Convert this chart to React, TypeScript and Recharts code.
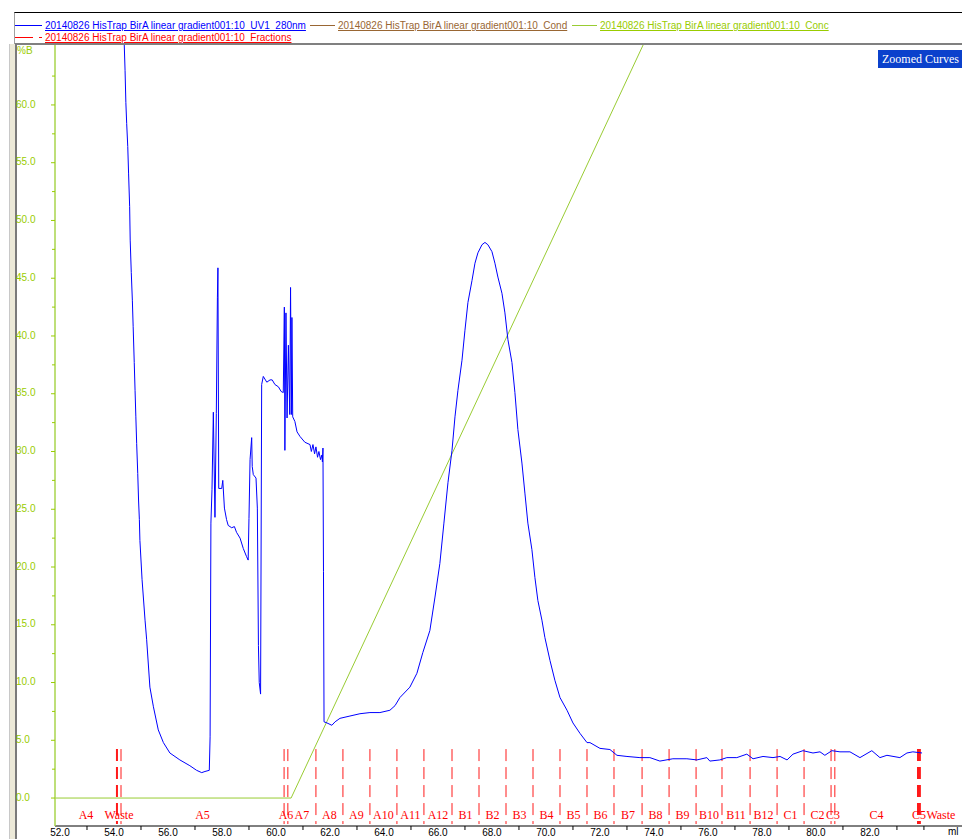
import React from 'react';
import { LineChart, Line, XAxis, YAxis, ReferenceLine, ReferenceDot } from 'recharts';

// UV1_280nm trace (ml, display units of the %B scale)
const uvMl = [
  54.35, 54.38, 54.41, 54.44, 54.47, 54.51, 54.54, 54.58, 54.6, 54.64, 54.68, 54.71, 54.75, 54.78, 54.81, 54.84,
  54.88, 54.91, 54.94, 54.96, 55.04, 55.15, 55.21, 55.33, 55.46, 55.64, 55.83, 56.07, 56.44, 56.81, 57.06, 57.25,
  57.37, 57.53,
  57.56, 57.59, 57.63, 57.68, 57.74, 57.79, 57.83, 57.85, 57.88, 57.99, 58.03, 58.09, 58.17, 58.23, 58.36, 58.46,
  58.54, 58.67, 58.79, 58.91, 58.97,
  59.0, 59.04, 59.1, 59.12, 59.16, 59.26, 59.31, 59.35, 59.38, 59.43,
  59.47, 59.53, 59.66, 59.78, 59.86, 59.96, 60.09, 60.19, 60.27,
  60.31, 60.33, 60.37, 60.41, 60.46, 60.51, 60.54, 60.57, 60.59,
  60.62, 60.7, 60.78, 60.89, 61.07, 61.26, 61.31, 61.37, 61.43, 61.48, 61.54, 61.59, 61.65, 61.7, 61.72, 61.74,
  61.76, 61.78,
  61.89, 62.07, 62.19,
  62.37, 62.74, 63.11, 63.48, 63.85, 64.22, 64.41, 64.59,
  64.96, 65.22, 65.44, 65.7, 65.89, 66.07, 66.22, 66.37, 66.52, 66.63, 66.74, 66.89, 67.0, 67.11, 67.26, 67.37,
  67.48, 67.63, 67.74, 67.85, 68.0, 68.11, 68.22, 68.37, 68.48, 68.59, 68.74, 68.85, 68.96, 69.11, 69.22, 69.33,
  69.48, 69.59, 69.7, 69.85, 69.96, 70.15, 70.33, 70.52, 70.78, 71.0, 71.26, 71.52, 71.63, 72.0, 72.37, 72.63,
  73.0, 73.48, 73.85, 74.22, 74.7, 75.22, 75.59, 75.96, 76.07, 76.44, 76.7, 77.07, 77.44, 77.67, 78.04, 78.41,
  78.67, 78.93, 79.15, 79.52, 79.89, 80.15, 80.33, 80.59, 80.89, 81.26, 81.63, 82.07, 82.37, 82.63, 83.11, 83.37,
  83.59, 83.93,
];
const uvAbs = [
  71.7, 65.2, 63.0, 60.2, 58.4, 56.4, 54.1, 51.2, 48.3, 45.5, 43.1, 40.8, 37.7, 35.3, 33.0, 30.7,
  28.1, 25.8, 24.1, 22.3, 18.9, 15.4, 13.7, 9.6, 7.9, 5.9, 4.8, 3.9, 3.3, 2.8, 2.4, 2.2,
  2.3, 2.4,
  5.3, 23.8, 26.7, 33.4, 24.3, 33.3, 43.3, 45.9, 26.8, 26.8, 27.5, 25.1, 24.1, 23.6, 23.4, 23.5,
  23.0, 22.5, 21.6, 20.9, 20.6,
  24.2, 29.3, 31.2, 28.7, 28.0, 27.7, 25.1, 13.2, 10.0, 9.0,
  35.8, 36.5, 36.0, 36.2, 36.2, 35.8, 35.6, 35.2, 35.1,
  42.5, 30.1, 42.0, 32.9, 39.2, 33.2, 44.2, 33.2, 41.6,
  33.0, 32.6, 31.7, 31.3, 30.8, 30.6, 30.0, 30.6, 29.8, 30.4, 29.5, 30.0, 29.3, 29.7, 29.1, 30.3,
  19.6, 6.6,
  6.5, 6.3, 6.6,
  6.9, 7.1, 7.3, 7.4, 7.4, 7.6, 8.0, 8.7,
  9.6, 10.8, 12.6, 14.5, 17.4, 20.3, 23.8, 27.3, 30.1, 33.0, 35.3, 37.9, 40.5, 42.9, 44.8, 46.3,
  47.2, 47.9, 48.1, 47.9, 47.3, 46.3, 45.1, 43.7, 42.0, 39.7, 37.7, 35.1, 31.9, 29.0, 26.4, 23.8,
  21.5, 19.1, 17.1, 15.4, 13.9, 11.9, 10.2, 8.7, 7.6, 6.5, 5.6, 4.8, 4.8, 4.3, 4.2, 3.7,
  3.6, 3.5, 3.5, 3.2, 3.4, 3.4, 3.3, 3.5, 3.2, 3.3, 3.5, 3.5, 3.8, 3.4, 3.6, 3.5,
  3.6, 3.3, 3.8, 4.1, 3.9, 4.0, 3.7, 4.1, 4.0, 4.0, 3.5, 4.1, 3.5, 3.7, 3.5, 3.9,
  4.0, 3.9,
];

// %B gradient (Conc)
const concMl = [51.8, 60.56, 80.56];
const concB = [0, 0, 100];

// fraction marks and names
const fractionMl = [
  54.11, 54.26, 60.3, 60.44, 61.48, 62.48, 63.48, 64.48, 65.48, 66.52, 67.52, 68.52, 69.52, 70.52, 71.52,
  72.52, 73.56, 74.56, 75.56, 76.52, 77.56, 78.56, 79.56, 80.56, 80.7, 83.78, 83.85,
];
const fractionNames = [
  'A4', 'Waste', 'A5', 'A6', 'A7', 'A8', 'A9', 'A10', 'A11', 'A12', 'B1', 'B2', 'B3', 'B4', 'B5', 'B6',
  'B7', 'B8', 'B9', 'B10', 'B11', 'B12', 'C1', 'C2', 'C3', 'C4', 'C5', 'Waste',
];

const xTicks = Array.from({ length: 33 }, (_, i) => 52 + i);
const yTicks = Array.from({ length: 26 }, (_, i) => i * 2.5);

const X_MIN = 51.815;
const X_MAX = 85.41;

const uvData = uvMl.map((ml, i) => ({ ml, v: uvAbs[i] }));
const concData = concMl.map((ml, i) => ({ ml, v: concB[i] }));
const bounds = [X_MIN, ...fractionMl, X_MAX];
const fracLabels = fractionNames.map((name, i) => ({ name, ml: (bounds[i] + bounds[i + 1]) / 2 }));

const GREEN = '#99cc00';
const sans = '"Liberation Sans", Arial, sans-serif';
const serif = '"Liberation Serif", "Times New Roman", serif';

const XTick = ({ x, payload }: any) => {
  const v = payload.value;
  const labelled = v % 2 === 0 && v <= 82;
  return (
    <g>
      {!labelled && <line x1={x} x2={x} y1={826} y2={830} stroke="#000" />}
      {labelled && (
        <text x={x} y={833} textAnchor="middle" dominantBaseline="middle" fontSize={10} fontFamily={sans} fill="#000">
          {v.toFixed(1)}
        </text>
      )}
    </g>
  );
};

const YTick = ({ y, payload }: any) => {
  const v = payload.value;
  const major = v % 5 === 0;
  return (
    <g>
      <line x1={major ? 51 : 52} x2={55} y1={y} y2={y} stroke={GREEN} />
      {major && (
        <text x={16} y={y} dominantBaseline="middle" fontSize={10} fontFamily={sans} fill={GREEN}>
          {v.toFixed(1)}
        </text>
      )}
    </g>
  );
};

const LegendText = ({ x, y, color, children }: any) => (
  <div
    style={{
      position: 'absolute', left: x, top: y - 7, fontFamily: sans, fontSize: 10, lineHeight: '13px',
      color, textDecoration: 'underline', whiteSpace: 'nowrap',
    }}
  >
    {children}
  </div>
);

export default function App() {
  return (
    <div style={{ position: 'absolute', left: 0, top: 0, width: 962, height: 839, overflow: 'hidden', background: '#fff' }}>
      {/* window frame */}
      <div style={{ position: 'absolute', left: 14, top: 12, width: 948, height: 30, borderTop: '1px solid #000', borderLeft: '1px solid #a0a0a0', borderBottom: '2px solid #808080' }} />
      <div style={{ position: 'absolute', left: 9, top: 44, width: 5, height: 795, background: '#ece9d8', borderLeft: '1px solid #c8c8c8', borderRight: '2px solid #7a7a7a' }} />

      {/* legend */}
      <svg style={{ position: 'absolute', left: 0, top: 0 }} width={962} height={44}>
        <line x1={15} x2={42} y1={25.5} y2={25.5} stroke="#0000ff" />
        <line x1={310} x2={335} y1={25.5} y2={25.5} stroke="#996633" />
        <line x1={572} x2={597} y1={25.5} y2={25.5} stroke="#99cc33" />
        <line x1={15} x2={33} y1={37.5} y2={37.5} stroke="#ff0000" />
        <line x1={39} x2={42} y1={37.5} y2={37.5} stroke="#ff0000" />
      </svg>
      <LegendText x={45} y={26} color="#0000ff">20140826 HisTrap BirA linear gradient001:10_UV1_280nm</LegendText>
      <LegendText x={338} y={26} color="#996633">20140826 HisTrap BirA linear gradient001:10_Cond</LegendText>
      <LegendText x={600} y={26} color="#99cc00">20140826 HisTrap BirA linear gradient001:10_Conc</LegendText>
      <LegendText x={45} y={38} color="#ff0000">20140826 HisTrap BirA linear gradient001:10_Fractions</LegendText>

      <div style={{ position: 'absolute', left: 0, top: 0 }}>
        <LineChart width={962} height={839} margin={{ top: 45, right: 0, bottom: 0, left: 0 }}>
          <XAxis
            type="number"
            dataKey="ml"
            domain={[X_MIN, X_MAX]}
            allowDataOverflow
            ticks={xTicks}
            interval={0}
            height={13}
            tickLine={false}
            tickSize={0}
            axisLine={{ stroke: '#000' }}
            tick={<XTick />}
          />
          <YAxis
            type="number"
            domain={[-2.42, 65.19]}
            allowDataOverflow
            ticks={yTicks}
            interval={0}
            width={55}
            tickLine={false}
            tickSize={0}
            axisLine={{ stroke: '#a8d44c', strokeWidth: 1.5 }}
            tick={<YTick />}
          />
          {fractionMl.map((ml, i) => (
            <ReferenceLine
              key={'f' + i}
              segment={[{ x: ml, y: 4.24 }, { x: ml, y: -2.25 }]}
              stroke="#ff1a1a"
              strokeWidth={i === 0 || i >= 25 ? 2 : 1}
              strokeDasharray="12 6"
            />
          ))}
          {fracLabels.map((f, i) => (
            <ReferenceDot
              key={'l' + i}
              x={f.ml}
              y={-1.47}
              r={0}
              fill="none"
              stroke="none"
              label={{ value: f.name, position: 'center', fill: '#ff0000', fontSize: 12, fontFamily: serif }}
            />
          ))}
          <Line data={concData} dataKey="v" type="linear" stroke="#99cc33" strokeWidth={1} dot={false} activeDot={false} isAnimationActive={false} />
          <Line data={uvData} dataKey="v" type="linear" stroke="#0000ff" strokeWidth={1} dot={false} activeDot={false} isAnimationActive={false} />
        </LineChart>
      </div>

      <div style={{ position: 'absolute', left: 17, top: 45, fontFamily: sans, fontSize: 10, color: GREEN }}>%B</div>
      <div style={{ position: 'absolute', left: 948, top: 826, fontFamily: sans, fontSize: 10, color: '#000' }}>ml</div>
      <div
        style={{
          position: 'absolute', left: 878, top: 50, width: 84, height: 18, background: '#0b41cc', color: '#fff',
          fontFamily: serif, fontSize: 12, lineHeight: '18px', paddingLeft: 4, boxSizing: 'border-box', whiteSpace: 'nowrap',
        }}
      >
        Zoomed Curves
      </div>
    </div>
  );
}
